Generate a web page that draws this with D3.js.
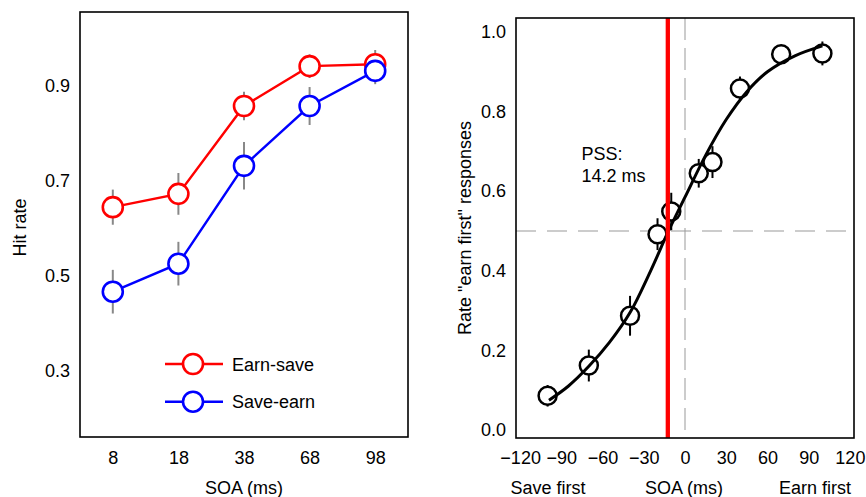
<!DOCTYPE html>
<html>
<head>
<meta charset="utf-8">
<script src="https://cdn.jsdelivr.net/npm/d3@7"></script>
<style>
  body { margin: 0; background: #fff; }
  svg, svg text { font-family: "Liberation Sans", Arial, sans-serif; }
  .tick text { font-size: 18px; fill: #000; }
</style>
</head>
<body>
<svg width="866" height="497"></svg>
<script>
// left panel: hit rate by SOA
const soaCats = ['8', '18', '38', '68', '98'];
const earnSave = [0.645, 0.673, 0.858, 0.942, 0.946];
const earnSaveErr = [0.037, 0.044, 0.03, 0.025, 0.03];
const saveEarn = [0.467, 0.526, 0.732, 0.858, 0.932];
const saveEarnErr = [0.046, 0.046, 0.05, 0.04, 0.028];
const hitTicks = [0.3, 0.5, 0.7, 0.9];

// right panel: rate "earn first" responses
const soaVals = [-100, -70, -40, -20, -10, 10, 20, 40, 70, 100];
const earnFirst = [0.086, 0.162, 0.287, 0.492, 0.549, 0.645, 0.673, 0.858, 0.944, 0.946];
const earnFirstErr = [0.027, 0.04, 0.05, 0.04, 0.047, 0.036, 0.04, 0.03, 0.02, 0.03];
// fitted curve
const fitX = [-99, -85, -70, -55, -40, -25, -12, 0, 15, 30, 45, 60, 80, 100];
const fitY = [0.075, 0.11, 0.16, 0.22, 0.295, 0.40, 0.50, 0.585, 0.69, 0.78, 0.85, 0.90, 0.94, 0.965];
const pss = -12.5;
const soaTicks = [-120, -90, -60, -30, 0, 30, 60, 90, 120];
const rateTicks = [0, 0.2, 0.4, 0.6, 0.8, 1.0];

const svg = d3.select('svg');

// ---------- left panel ----------
const L = { x0: 80, x1: 408, y0: 12, y1: 437 };
const xL = d3.scalePoint().domain(soaCats).range([L.x0, L.x1]).padding(0.5);
const yL = d3.scaleLinear().domain([0.161, 1.056]).range([L.y1, L.y0]);

const left = svg.append('g');

left.append('g')
  .attr('transform', `translate(${L.x0},0)`)
  .call(d3.axisLeft(yL).tickValues(hitTicks).tickFormat(d3.format('.1f')).tickSize(0).tickPadding(10))
  .call(g => g.select('.domain').remove());

left.append('g')
  .attr('transform', `translate(0,${L.y1})`)
  .call(d3.axisBottom(xL).tickSize(0).tickPadding(14))
  .call(g => g.select('.domain').remove());

left.append('rect')
  .attr('x', L.x0).attr('y', L.y0)
  .attr('width', L.x1 - L.x0).attr('height', L.y1 - L.y0)
  .attr('fill', 'none').attr('stroke', '#000').attr('stroke-width', 1.6);

const series = [
  { name: 'Earn-save', color: '#ff0000', vals: earnSave, err: earnSaveErr },
  { name: 'Save-earn', color: '#0000ff', vals: saveEarn, err: saveEarnErr }
];

series.forEach(s => {
  left.selectAll(null)
    .data(s.vals)
    .join('line')
    .attr('x1', (d, i) => xL(soaCats[i])).attr('x2', (d, i) => xL(soaCats[i]))
    .attr('y1', (d, i) => yL(d - s.err[i])).attr('y2', (d, i) => yL(d + s.err[i]))
    .attr('stroke', '#888').attr('stroke-width', 2);
});

series.forEach(s => {
  left.append('path')
    .datum(s.vals)
    .attr('d', d3.line().x((d, i) => xL(soaCats[i])).y(d => yL(d)))
    .attr('fill', 'none').attr('stroke', s.color).attr('stroke-width', 2.4);
  left.selectAll(null)
    .data(s.vals)
    .join('circle')
    .attr('cx', (d, i) => xL(soaCats[i])).attr('cy', d => yL(d))
    .attr('r', 10)
    .attr('fill', '#fff').attr('stroke', s.color).attr('stroke-width', 2.6);
});

// legend
const leg = left.selectAll('.leg')
  .data(series)
  .join('g')
  .attr('class', 'leg')
  .attr('transform', (d, i) => `translate(165,${364 + i * 37.7})`);
leg.append('line').attr('x1', 0).attr('x2', 58)
  .attr('stroke', d => d.color).attr('stroke-width', 2.4);
leg.append('circle').attr('cx', 28).attr('r', 10)
  .attr('fill', '#fff').attr('stroke', d => d.color).attr('stroke-width', 2.6);
leg.append('text').attr('x', 67).attr('y', 6.5)
  .attr('font-size', 18).text(d => d.name);

left.append('text')
  .attr('transform', `translate(26,${(L.y0 + L.y1) / 2 + 3}) rotate(-90)`)
  .attr('text-anchor', 'middle').attr('font-size', 18)
  .text('Hit rate');

left.append('text')
  .attr('x', (L.x0 + L.x1) / 2).attr('y', 494)
  .attr('text-anchor', 'middle').attr('font-size', 18)
  .text('SOA (ms)');

// ---------- right panel ----------
const R = { x0: 516, x1: 854, y0: 18, y1: 438 };
const xR = d3.scaleLinear().domain([-123, 123]).range([R.x0, R.x1]);
const yR = d3.scaleLinear().domain([-0.02, 1.035]).range([R.y1, R.y0]);

const right = svg.append('g');

right.append('g')
  .attr('transform', `translate(${R.x0},0)`)
  .call(d3.axisLeft(yR).tickValues(rateTicks).tickFormat(d3.format('.1f')).tickSize(0).tickPadding(10))
  .call(g => g.select('.domain').remove());

right.append('g')
  .attr('transform', `translate(0,${R.y1})`)
  .call(d3.axisBottom(xR).tickValues(soaTicks).tickSize(0).tickPadding(13))
  .call(g => g.select('.domain').remove());

// reference lines
right.append('line')
  .attr('x1', xR(0)).attr('x2', xR(0)).attr('y1', R.y0).attr('y2', R.y1)
  .attr('stroke', '#999').attr('stroke-width', 1).attr('stroke-dasharray', '22,8');
right.append('line')
  .attr('x1', R.x0).attr('x2', R.x1).attr('y1', yR(0.5)).attr('y2', yR(0.5))
  .attr('stroke', '#999').attr('stroke-width', 1.2).attr('stroke-dasharray', '20,11');

right.selectAll(null)
  .data(earnFirst)
  .join('line')
  .attr('x1', (d, i) => xR(soaVals[i])).attr('x2', (d, i) => xR(soaVals[i]))
  .attr('y1', (d, i) => yR(d - earnFirstErr[i])).attr('y2', (d, i) => yR(d + earnFirstErr[i]))
  .attr('stroke', '#000').attr('stroke-width', 2);

right.selectAll(null)
  .data(earnFirst)
  .join('circle')
  .attr('cx', (d, i) => xR(soaVals[i])).attr('cy', d => yR(d))
  .attr('r', 9)
  .attr('fill', '#fff').attr('stroke', '#000').attr('stroke-width', 2.5);

right.append('path')
  .datum(fitY)
  .attr('d', d3.line().curve(d3.curveCatmullRom).x((d, i) => xR(fitX[i])).y(d => yR(d)))
  .attr('fill', 'none').attr('stroke', '#000').attr('stroke-width', 3);

right.append('line')
  .attr('x1', xR(pss)).attr('x2', xR(pss)).attr('y1', R.y0).attr('y2', R.y1)
  .attr('stroke', '#ff0000').attr('stroke-width', 4.3);

right.append('rect')
  .attr('x', R.x0).attr('y', R.y0)
  .attr('width', R.x1 - R.x0).attr('height', R.y1 - R.y0)
  .attr('fill', 'none').attr('stroke', '#000').attr('stroke-width', 1.6);

right.append('text')
  .attr('x', 581.5).attr('y', 159.5).attr('font-size', 18)
  .text('PSS:');
right.append('text')
  .attr('x', 581.5).attr('y', 182).attr('font-size', 18)
  .text('14.2 ms');

right.append('text')
  .attr('transform', `translate(471,${(R.y0 + R.y1) / 2}) rotate(-90)`)
  .attr('text-anchor', 'middle').attr('font-size', 18)
  .text('Rate "earn first" responses');

const xNotes = [
  { t: 'Save first', x: 548 },
  { t: 'SOA (ms)', x: 684 },
  { t: 'Earn first', x: 815 }
];
right.selectAll('.xnote')
  .data(xNotes)
  .join('text')
  .attr('class', 'xnote')
  .attr('x', d => d.x).attr('y', 494)
  .attr('text-anchor', 'middle').attr('font-size', 18)
  .text(d => d.t);
</script>
</body>
</html>
